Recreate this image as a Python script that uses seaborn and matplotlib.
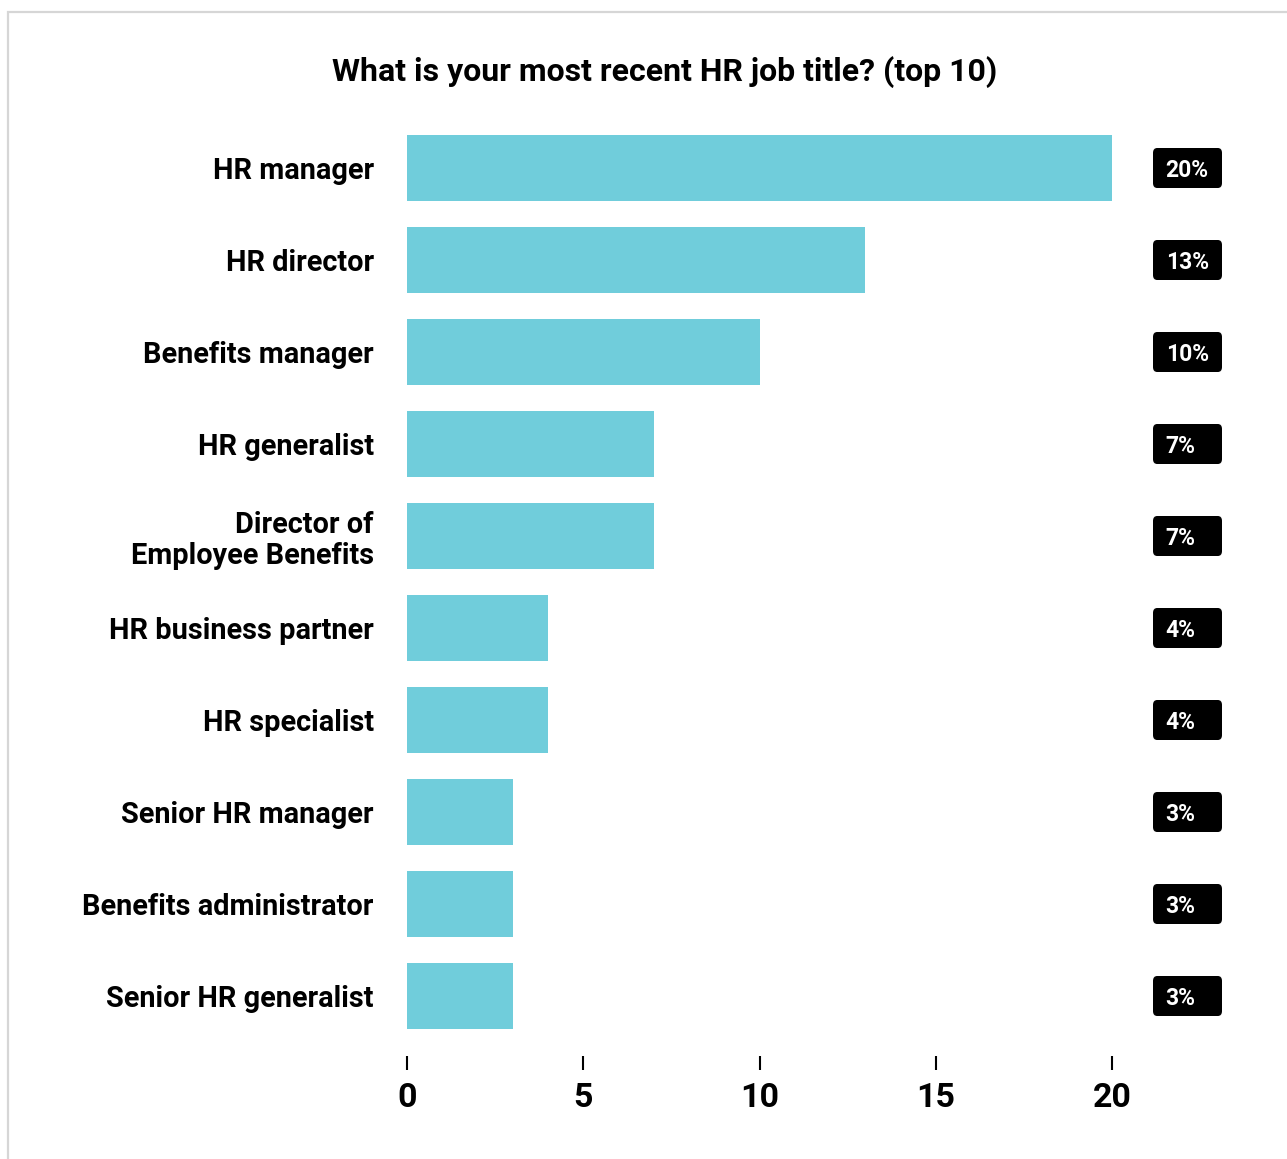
import matplotlib.pyplot as plt
import seaborn as sns
from matplotlib.patches import FancyBboxPatch, Rectangle

# ========== DADOS ==========
titles = [
    "HR manager",
    "HR director",
    "Benefits manager",
    "HR generalist",
    "Director of\nEmployee Benefits",
    "HR business partner",
    "HR specialist",
    "Senior HR manager",
    "Benefits administrator",
    "Senior HR generalist",
]
shares = [20, 13, 10, 7, 7, 4, 4, 3, 3, 3]
share_labels = ["20%", "13%", "10%", "7%", "7%", "4%", "4%", "3%", "3%", "3%"]
xticks = [0, 5, 10, 15, 20]

# ========== ESTILO ==========
sns.set_theme(style="white")
plt.rcParams["font.family"] = ["Roboto", "DejaVu Sans"]
plt.rcParams["font.weight"] = "bold"
plt.rcParams["text.color"] = "black"
plt.rcParams["xtick.labelcolor"] = "black"
plt.rcParams["ytick.labelcolor"] = "black"

W, H = 1287, 1159
fig = plt.figure(figsize=(W / 100, H / 100), dpi=100)
fig.patch.set_facecolor("white")

# moldura cinza do cartão (corta à direita e embaixo)
fig.patches.append(Rectangle((8 / W, -0.1), 1.2, (H - 12) / H + 0.1,
                             transform=fig.transFigure, fill=False,
                             edgecolor="#d6d6d6", lw=1.6))

ax = fig.add_axes([407 / W, 117 / H, 705 / W, 920 / H])

sns.barplot(x=shares, y=titles, color="#70cddb", saturation=1,
            width=0.72, orient="h", linewidth=0, ax=ax)

ax.set_xlim(0, 20)
ax.set_ylim(9.5, -0.5)
ax.set_xlabel("")
ax.set_ylabel("")

for s in ["top", "right", "left"]:
    ax.spines[s].set_visible(False)
ax.spines["bottom"].set_position(("outward", 10))
ax.spines["bottom"].set_visible(False)

ax.set_xticks(xticks)
ax.set_xticklabels([str(t) for t in xticks], fontsize=24.5, fontweight="bold",
                   color="black")
ax.tick_params(axis="x", bottom=True, direction="out", length=10, width=1.5,
               color="black", pad=9)
ax.tick_params(axis="y", left=False, length=0, pad=24)
for lab in ax.get_yticklabels():
    lab.set_fontsize(20.8)
    lab.set_fontweight("bold")
    lab.set_color("black")
    lab.set_linespacing(1.15)

# caixas pretas com as porcentagens
box_x0 = (1153 - 407) / 35.25
box_w = (1222 - 1153) / 35.25
box_h = 40 / 92
for i, lab in enumerate(share_labels):
    ax.add_patch(FancyBboxPatch((box_x0, i - box_h / 2), box_w, box_h,
                                boxstyle="round,pad=0,rounding_size=0.12",
                                mutation_aspect=0.45,
                                facecolor="black", edgecolor="none",
                                clip_on=False))
    ax.text(box_x0 + 0.36, i, lab, color="white", fontsize=16.5,
            fontweight="bold", ha="left", va="center_baseline", clip_on=False)

fig.text(664.5 / W, 1 - 72 / H, "What is your most recent HR job title? (top 10)",
         ha="center", va="center", fontsize=23, fontweight="bold", color="black")

fig.savefig("out.png", dpi=100, facecolor="white")
